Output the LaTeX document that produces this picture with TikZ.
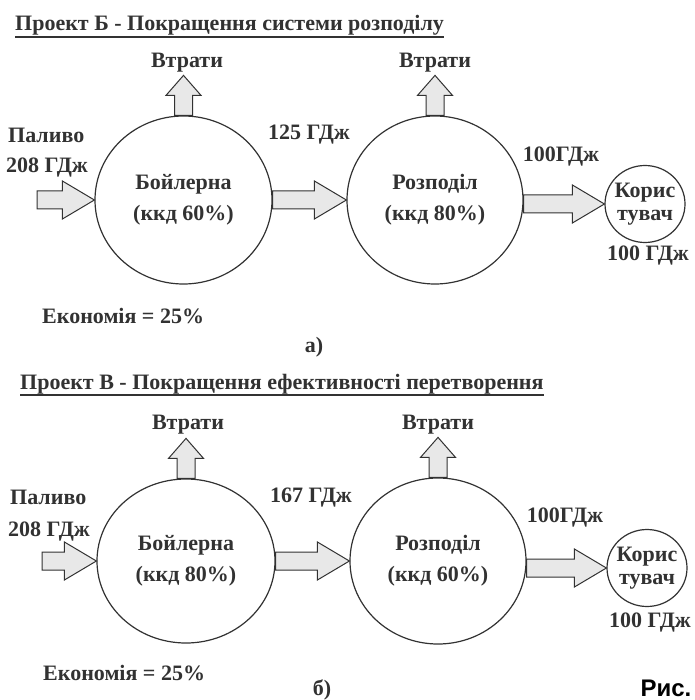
\documentclass[tikz,border=0pt]{standalone}
\usepackage{fontspec}
\setmainfont{Liberation Serif}
\newfontfamily\figfont{Liberation Sans}
\usetikzlibrary{shapes.geometric,calc}
\definecolor{inkgray}{RGB}{50,50,50}
\definecolor{arrowfill}{RGB}{232,232,232}

% block arrow pointing right, from #1 to the tip #2
\newcommand{\rightblock}[2]{%
  \draw[blockarrow] ($(#1)+(0,9)$) -- ($(#2)+(-32,9)$) -- ($(#2)+(-32,19)$) -- (#2)
    -- ($(#2)+(-32,-19)$) -- ($(#2)+(-32,-9)$) -- ($(#1)+(0,-9)$) -- cycle;}
% block arrow pointing up, from the base #1
\newcommand{\upblock}[1]{%
  \draw[blockarrow] ($(#1)+(-9,0)$) -- ($(#1)+(-9,-20)$) -- ($(#1)+(-17.5,-20)$) -- ($(#1)+(0,-40)$)
    -- ($(#1)+(17.5,-20)$) -- ($(#1)+(9,-20)$) -- ($(#1)+(9,0)$) -- cycle;}

\begin{document}
\begin{tikzpicture}[x=1pt, y=-1pt, line join=miter,
                txt/.style={font=\bfseries\fontsize{22}{26}\selectfont, text=inkgray, inner sep=0pt},
                bigunit/.style={shape=ellipse, draw=inkgray, line width=1.2pt, inner sep=0pt, align=center,
                    text=inkgray, font=\bfseries\fontsize{22}{31}\selectfont},
                userunit/.style={shape=ellipse, draw=inkgray, line width=1.2pt, inner sep=-5pt, align=center,
                    text=inkgray, font=\bfseries\fontsize{22}{23}\selectfont, minimum width=80pt, minimum height=77pt},
                blockarrow/.style={draw=inkgray, fill=arrowfill, line width=1pt}]
            \fill[white] (0,0) rectangle (694,700);
            \useasboundingbox (0,0) rectangle (694,700);

            % Project B (a)
            \node[txt, anchor=base west] (titleA) at (15,31) {Проект Б - Покращення системи розподілу};
            \draw[inkgray, line width=1.5pt] ([yshift=-6pt]titleA.base west) -- ([yshift=-6pt]titleA.base east);

            \node[bigunit, minimum width=177pt, minimum height=168pt] (boilA) at (183.5,200) {Бойлерна\\(ккд 60\%)};
            \node[bigunit, minimum width=176pt, minimum height=168pt] (distA) at (435,200) {Розподіл\\(ккд 80\%)};
            \node[userunit] (userA) at (645,204) {Корис\\тувач};

            \node[txt] (lossA1) at (187,63) {Втрати};
            \node[txt] (lossA2) at (435,63) {Втрати};
            \node[txt, anchor=west] (fuelA) at (8,135) {Паливо};
            \node[txt, anchor=west] (fuelvalA) at (6,168) {208 ГДж};
            \node[txt] (flowA1) at (309,135) {125 ГДж};
            \node[txt] (flowA2) at (561,157) {100ГДж};
            \node[txt] (uservalA) at (648,256) {100 ГДж};
            \node[txt, anchor=west] (saveA) at (42,316) {Економія = 25\%};
            \node[txt] (capA) at (314,347) {а)};

            \coordinate (inA) at (37,200);
            \coordinate (outA) at (distA.east |- userA.west);
            \rightblock{inA}{boilA.west}
            \rightblock{boilA.east}{distA.west}
            \rightblock{outA}{userA.west}
            \upblock{boilA.north}
            \upblock{distA.north}

            % Project V (b)
            \node[txt, anchor=base west] (titleB) at (20,389) {Проект В - Покращення ефективності перетворення};
            \draw[inkgray, line width=1.5pt] ([yshift=-6pt]titleB.base west) -- ([yshift=-6pt]titleB.base east);

            \node[bigunit, minimum width=178pt, minimum height=164pt] (boilB) at (186,561) {Бойлерна\\(ккд 80\%)};
            \node[bigunit, minimum width=176pt, minimum height=166pt] (distB) at (438,561) {Розподіл\\(ккд 60\%)};
            \node[userunit] (userB) at (647,568) {Корис\\тувач};

            \node[txt] (lossB1) at (188,425) {Втрати};
            \node[txt] (lossB2) at (438,425) {Втрати};
            \node[txt, anchor=west] (fuelB) at (10,497) {Паливо};
            \node[txt, anchor=west] (fuelvalB) at (8,532) {208 ГДж};
            \node[txt] (flowB1) at (311,498) {167 ГДж};
            \node[txt] (flowB2) at (565,518) {100ГДж};
            \node[txt] (uservalB) at (650,623) {100 ГДж};
            \node[txt, anchor=west] (saveB) at (43,673) {Економія = 25\%};
            \node[txt] (capB) at (322,690) {б)};

            \coordinate (inB) at (42,561);
            \coordinate (outB) at (distB.east |- userB.west);
            \rightblock{inB}{boilB.west}
            \rightblock{boilB.east}{distB.west}
            \rightblock{outB}{userB.west}
            \upblock{boilB.north}
            \upblock{distB.north}

            % Figure mark
            \node[font=\figfont\bfseries\fontsize{24}{28}\selectfont, text=black, inner sep=0pt] (figmark) at (666,688) {Рис.};
\end{tikzpicture}
\end{document}
